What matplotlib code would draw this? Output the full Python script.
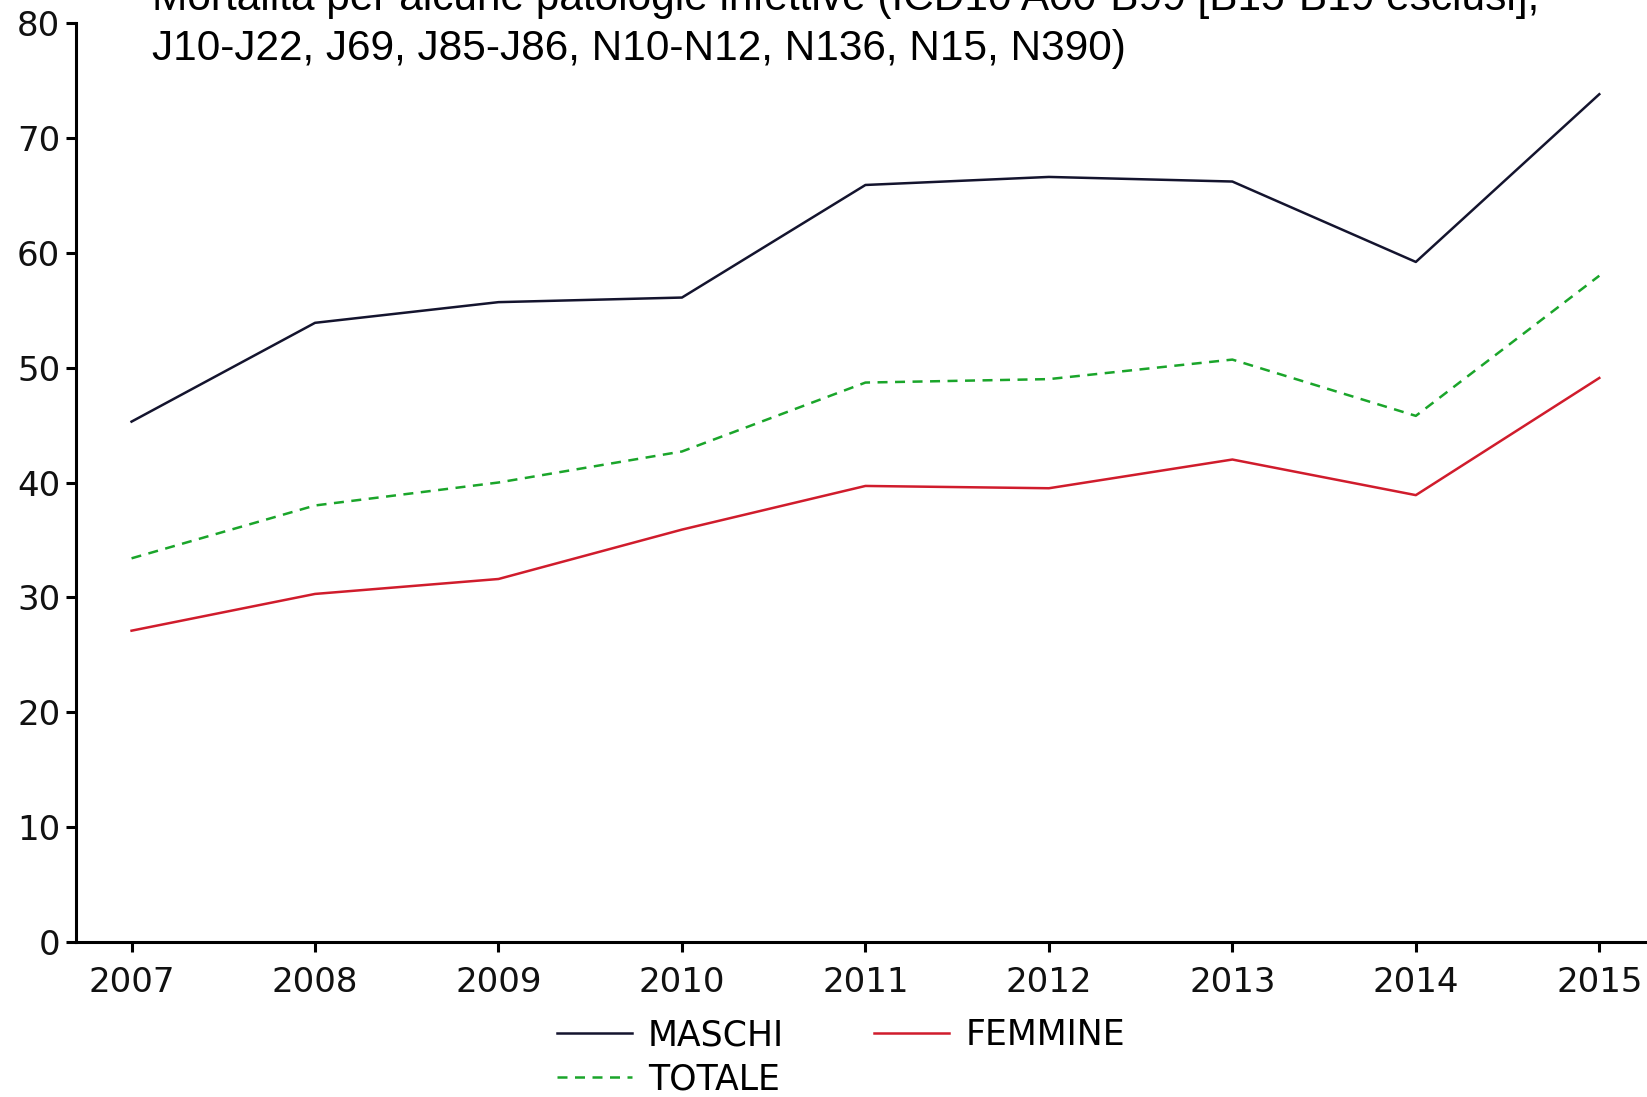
import matplotlib
matplotlib.use("Agg")
import matplotlib.pyplot as plt

# data
anni = [2007, 2008, 2009, 2010, 2011, 2012, 2013, 2014, 2015]
maschi = [45.3, 53.9, 55.7, 56.1, 65.9, 66.6, 66.2, 59.2, 73.8]
femmine = [27.1, 30.3, 31.6, 35.9, 39.7, 39.5, 42.0, 38.9, 49.1]
totale = [33.4, 38.0, 40.0, 42.7, 48.7, 49.0, 50.7, 45.8, 58.0]
y_ticks = [0, 10, 20, 30, 40, 50, 60, 70, 80]

titolo_1 = "Mortalità per alcune patologie infettive (ICD10 A00-B99 [B15-B19 esclusi],"
titolo_2 = "J10-J22, J69, J85-J86, N10-N12, N136, N15, N390)"

W, H = 1647, 1097
fig = plt.figure(figsize=(W / 100, H / 100), dpi=100)
ax = fig.add_axes([75.6 / W, 1 - 942 / H, 1 - 75.6 / W, (942 - 23) / H])

l_m, = ax.plot(anni, maschi, color="#14142e", lw=1.8, label="MASCHI")
l_f, = ax.plot(anni, femmine, color="#d01c2c", lw=1.8, label="FEMMINE")
l_t, = ax.plot(anni, totale, color="#1aa52a", lw=1.8, ls=(0, (4, 3)), label="TOTALE")

ax.set_xlim(2006.695, 2015.26)
ax.set_ylim(0, 80)
ax.set_xticks(anni)
ax.set_yticks(y_ticks)

for s in ["top", "right"]:
    ax.spines[s].set_visible(False)
for s in ["left", "bottom"]:
    ax.spines[s].set_linewidth(2.2)
ax.tick_params(axis="both", width=2.2, length=7, labelsize=24.5, labelcolor="#111111",
               direction="out")
ax.tick_params(axis="x", pad=10)
ax.tick_params(axis="y", pad=4)
for lab in ax.get_xticklabels() + ax.get_yticklabels():
    lab.set_family("DejaVu Sans")

# title (first line is clipped at the top in the reference)
fig.text(152 / W, 1 - 10 / H, titolo_1, family="Liberation Sans", fontsize=30.5,
         ha="left", va="baseline", color="black")
fig.text(152 / W, 1 - 60 / H, titolo_2, family="Liberation Sans", fontsize=30.5,
         ha="left", va="baseline", color="black")

leg = fig.legend([l_m, l_t, l_f], ["MASCHI", "TOTALE", "FEMMINE"], ncol=2,
                 loc="upper left", bbox_to_anchor=(557 / W, 1 - 1018 / H),
                 frameon=False, borderpad=0, borderaxespad=0,
                 handlelength=2.16, handletextpad=0.46, columnspacing=2.6,
                 labelspacing=0.3, prop={"family": "DejaVu Sans", "size": 25})

fig.savefig("out.png", dpi=100)
